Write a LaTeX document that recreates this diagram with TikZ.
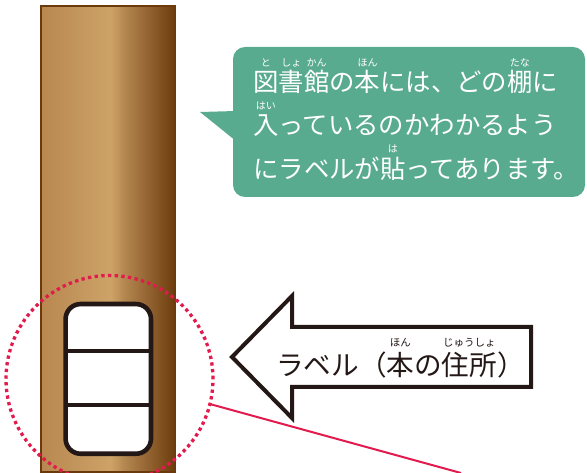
\documentclass[tikz,border=0pt]{standalone}
\usepackage{fontspec}
\newfontfamily\jp{Noto Sans CJK JP}

% ruby: small reading set above a base character group
\newcommand\rb[3][1.0em]{\setbox0\hbox{#2}\rlap{\makebox[\wd0]{\raisebox{#1}[0pt][0pt]{\rubyfont #3}}}\box0}
\newcommand\rubyfont{\fontsize{10}{10}\selectfont}

\definecolor{bubblefill}{RGB}{89,171,143}
\definecolor{ink}{RGB}{35,24,21}
\definecolor{spineedge}{RGB}{107,58,12}
\definecolor{marker}{RGB}{226,26,77}
\definecolor{w0}{RGB}{184,136,80}
\definecolor{w1}{RGB}{194,149,92}
\definecolor{w2}{RGB}{206,163,103}
\definecolor{w3}{RGB}{180,135,80}
\definecolor{w4}{RGB}{143,95,45}
\definecolor{w5}{RGB}{108,60,13}

\pgfdeclarehorizontalshading{spinewood}{100bp}{color(0bp)=(w0); color(25bp)=(w0); color(38bp)=(w1); color(51bp)=(w2); color(56bp)=(w3); color(66bp)=(w4); color(75bp)=(w5); color(100bp)=(w5)}

\tikzset{
  spine/.style={rectangle, draw=spineedge, line width=2pt, shading=spinewood, shade, inner sep=0pt, outer sep=0pt},
  labelbox/.style={rectangle, rounded corners=15pt, draw=ink, fill=white, line width=4.6pt, inner sep=0pt, outer sep=0pt},
  divider/.style={draw=ink, line width=3.2pt},
  zoomring/.style={circle, draw=marker, line width=3.3pt, dash pattern=on 3.3pt off 3.4pt, inner sep=0pt, outer sep=0pt},
  leader/.style={draw=marker, line width=2pt},
  bubble/.style={rectangle, rounded corners=12pt, fill=bubblefill, inner sep=0pt, outer sep=0pt},
  bubbletext/.style={text=white, inner sep=0pt, font=\jp\fontsize{25.4}{25.4}\selectfont},
  arrowshape/.style={draw=ink, fill=white, line width=4pt, line join=miter},
  arrowtext/.style={text=ink, inner sep=0pt, font=\jp\fontsize{27.6}{27.6}\selectfont}
}

\begin{document}
\begin{tikzpicture}[x=1pt,y=-1pt]
\clip (0,0) rectangle (587,473);
\fill[white] (0,0) rectangle (587,473);

% book spine with its call-number label
\node[spine, minimum width=134pt, minimum height=465pt] (spine) at (108,239) {};
\node[labelbox, minimum width=85.4pt, minimum height=149.7pt] (label) at (108.3,378.9) {};
\draw[divider] (label.west |- 0,351) -- (label.east |- 0,351);
\draw[divider] (label.west |- 0,405) -- (label.east |- 0,405);

% dotted ring round the label and its leader line
\node[zoomring, minimum size=207pt] (ring) at (109.5,379) {};
\coordinate (leadend) at (461,473);
\draw[leader] (ring.-14) -- (leadend);

% speech bubble
\node[bubble, minimum width=352pt, minimum height=150pt] (bubble) at (409,122) {};
\fill[bubblefill] (236,111) -- (200,112) -- (236,141) -- cycle;
\node[bubbletext, anchor=base west] (line1) at (253,91.5)
  {\rb{図}{と}\rb{書}{しょ}\rb{館}{かん}の\rb{本}{ほん}には、どの\rb{棚}{たな}に};
\node[bubbletext, anchor=base west] (line2) at (253,135)
  {\rb{入}{はい}っているのかわかるよう};
\node[bubbletext, anchor=base west] (line3) at (253,178.3)
  {にラベルが\rb{貼}{は}ってあります。};

% big arrow pointing at the label
\draw[arrowshape] (232,357) -- (292,296) -- (292,327) -- (531,327) -- (531,387) -- (292,387) -- (292,418) -- cycle;
\node[arrowtext, anchor=base west] (arrowlabel) at (276,375.5)
  {\renewcommand\rubyfont{\fontsize{10.5}{10.5}\selectfont}ラベル（\rb[1.05em]{本}{ほん}の\rb[1.05em]{住所}{じゅうしょ}）};
\end{tikzpicture}
\end{document}
